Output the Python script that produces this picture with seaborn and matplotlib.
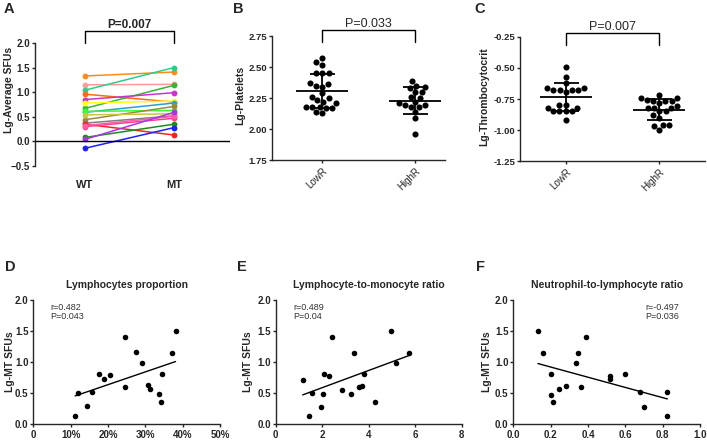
import matplotlib
matplotlib.use('Agg')
import matplotlib.pyplot as plt
import seaborn as sns
import pandas as pd
import numpy as np

# ---- data ----
# A: paired WT / MT values, one line per donor
wt_vals = [1.33, 1.15, 1.04, 0.96, 0.67, 0.85, 0.78, 0.59, 0.61, 0.44, 0.54, 0.37, 0.35, 0.30, 0.32, 0.08, 0.04, -0.14]
mt_vals = [1.41, 1.16, 1.50, 0.80, 1.14, 0.99, 0.82, 0.78, 0.63, 0.71, 0.56, 0.52, 0.13, 0.47, 0.51, 0.35, 0.59, 0.28]
donor_colors = ['#ff8c1a', '#ff9c94', '#2ecc8a', '#ff6a13', '#33b833', '#cc33cc', '#ffff1a', '#2a9fd0', '#33ff33',
                '#9c8a3a', '#c8c840', '#7f7f7f', '#ff2020', '#ff3c8c', '#ff5ca8', '#1f8c1f', '#aa33ee', '#2020ff']

# B: Lg-Platelets
plt_low = [2.57, 2.54, 2.52, 2.45, 2.45, 2.45, 2.37, 2.35, 2.34, 2.36, 2.29, 2.26, 2.25, 2.23, 2.22, 2.21,
           2.18, 2.18, 2.17, 2.18, 2.17, 2.14, 2.13]
plt_high = [2.39, 2.35, 2.34, 2.33, 2.30, 2.30, 2.26, 2.25, 2.22, 2.21, 2.19, 2.19, 2.18, 2.18, 2.14, 2.09, 1.96]

# C: Lg-Thrombocytocrit
pct_low = [-0.49, -0.57, -0.62, -0.66, -0.66, -0.68, -0.68, -0.68, -0.68, -0.69, -0.80, -0.80, -0.82, -0.82,
           -0.85, -0.85, -0.85, -0.85, -0.92]
pct_high = [-0.72, -0.74, -0.74, -0.76, -0.77, -0.77, -0.77, -0.78, -0.81, -0.82, -0.82, -0.82, -0.85, -0.85,
            -0.88, -0.90, -0.96, -0.96, -0.97, -1.00]

# D/E/F correlations with Lg-MT SFUs
lym_prop = [11.2, 11.9, 14.5, 15.7, 17.7, 19.0, 20.6, 24.6, 24.6, 27.5, 29.0, 30.7, 31.3, 33.7, 34.3, 34.5, 37.2, 38.1]
lym_sfu = [0.13, 0.50, 0.29, 0.52, 0.81, 0.72, 0.79, 1.41, 0.60, 1.16, 0.99, 0.63, 0.56, 0.48, 0.36, 0.81, 1.14, 1.50]

lmr = [1.16, 1.45, 1.55, 1.96, 2.05, 2.09, 2.29, 2.44, 2.85, 3.23, 3.37, 3.57, 3.70, 3.80, 4.26, 4.95, 5.18, 5.72]
lmr_sfu = [0.71, 0.13, 0.50, 0.28, 0.49, 0.80, 0.78, 1.40, 0.55, 0.48, 1.15, 0.59, 0.62, 0.81, 0.35, 1.50, 0.99, 1.14]

nlr = [0.132, 0.161, 0.20, 0.20, 0.21, 0.243, 0.282, 0.336, 0.348, 0.364, 0.389, 0.518, 0.518, 0.598, 0.679, 0.70, 0.825, 0.825]
nlr_sfu = [1.50, 1.14, 0.80, 0.47, 0.35, 0.57, 0.62, 0.99, 1.15, 0.59, 1.40, 0.78, 0.72, 0.80, 0.51, 0.28, 0.51, 0.13]

# ---- style ----
sns.set_style('ticks')
plt.rcParams['font.family'] = ['Liberation Sans', 'DejaVu Sans']
plt.rcParams['axes.linewidth'] = 1.0
plt.rcParams['xtick.major.width'] = 1.0
plt.rcParams['ytick.major.width'] = 1.0
plt.rcParams['xtick.major.size'] = 2.5
plt.rcParams['ytick.major.size'] = 2.5
plt.rcParams['xtick.major.pad'] = 1.5
plt.rcParams['ytick.major.pad'] = 1.0

W, H = 707, 448
fig = plt.figure(figsize=(W / 100, H / 100), dpi=100)


def box(left, right, top, bottom):
    return [left / W, 1 - bottom / H, (right - left) / W, (bottom - top) / H]


def bold_ticks(ax, size=7):
    for t in ax.get_yticklabels() + ax.get_xticklabels():
        t.set_fontweight('bold')
        t.set_fontsize(size)


def bracket(ax, y_leg, y_top, text, weight, size):
    ax.plot([0, 0, 1, 1], [y_leg, y_top, y_top, y_leg], color='black', lw=1.0, clip_on=False)
    ax.text(0.5, y_top, text, ha='center', va='bottom', fontsize=size, fontweight=weight)


# ---- A: paired lines ----
axA = fig.add_axes(box(35, 230, 43, 166))
dfA = pd.DataFrame({
    'donor': list(range(len(wt_vals))) * 2,
    'pos': [0] * len(wt_vals) + [1] * len(mt_vals),
    'value': wt_vals + mt_vals,
})
sns.lineplot(data=dfA, x='pos', y='value', hue='donor', palette=donor_colors, estimator=None,
             marker='o', markersize=4.2, markeredgewidth=0, linewidth=1.1, legend=False, ax=axA)
axA.axhline(0, color='black', lw=1.0)
axA.set_xlim(-0.56, 1.63)
axA.set_ylim(-0.5, 2.0)
axA.set_yticks([-0.5, 0.0, 0.5, 1.0, 1.5, 2.0])
axA.set_xticks([0, 1])
axA.set_xticklabels(['WT', 'MT'])
axA.tick_params(axis='x', length=0, pad=10)
sns.despine(ax=axA, bottom=True)
axA.set_xlabel('')
axA.set_ylabel('Lg-Average SFUs', fontsize=7.5, fontweight='bold')
axA.yaxis.set_label_coords(-0.11, 0.62)
bold_ticks(axA)
for t in axA.get_xticklabels():
    t.set_fontsize(8)
bracket(axA, 2.0, 2.24, 'P=0.007', 'bold', 8.5)


# ---- B / C: scatter with mean ± SD ----
def dot_panel(ax, low, high, ylim, yticks, ylabel, ptext, y_leg, y_top, label_x):
    df = pd.DataFrame({'group': ['LowR'] * len(low) + ['HighR'] * len(high), 'value': low + high})
    sns.swarmplot(data=df, x='group', y='value', color='black', size=4.4, ax=ax)
    for i, vals in enumerate([low, high]):
        m = np.mean(vals)
        sd = np.std(vals, ddof=1)
        ax.hlines(m, i - 0.28, i + 0.28, color='black', lw=1.3, zorder=3)
        ax.errorbar(i, m, yerr=sd, color='black', lw=1.3, capsize=9, capthick=1.3, zorder=3)
    ax.set_ylim(*ylim)
    ax.set_yticks(yticks)
    ax.yaxis.set_major_formatter(matplotlib.ticker.FormatStrFormatter('%.2f'))
    ax.set_xlabel('')
    ax.set_ylabel(ylabel, fontsize=7.5, fontweight='bold')
    ax.yaxis.set_label_coords(label_x, 0.52)
    sns.despine(ax=ax)
    bold_ticks(ax, 6.8)
    for t in ax.get_xticklabels():
        t.set_fontweight('normal')
        t.set_fontsize(7)
        t.set_rotation(45)
        t.set_ha('right')
        t.set_rotation_mode('anchor')
    bracket(ax, y_leg, y_top, ptext, 'normal', 9)


axB = fig.add_axes(box(272, 445, 36, 160))
dot_panel(axB, plt_low, plt_high, (1.75, 2.75), [1.75, 2.00, 2.25, 2.50, 2.75], 'Lg-Platelets',
          'P=0.033', 2.70, 2.80, -0.155)
axB.set_xlim(-0.54, 1.32)

axC = fig.add_axes(box(520, 705, 36.7, 161.3))
dot_panel(axC, pct_low, pct_high, (-1.25, -0.25), [-1.25, -1.00, -0.75, -0.50, -0.25], 'Lg-Thrombocytocrit',
          'P=0.007', -0.32, -0.22, -0.165)
axC.set_xlim(-0.49, 1.49)


# ---- D / E / F: correlations ----
def corr_panel(ax, x, y, xlim, xticks, title, note, note_x, note_ha, label_x):
    sns.regplot(x=x, y=y, ci=None, color='black', ax=ax,
                scatter_kws={'s': 16, 'linewidths': 0, 'alpha': 1},
                line_kws={'lw': 1.0})
    ax.set_xlim(*xlim)
    ax.set_ylim(0, 2.0)
    ax.set_yticks([0.0, 0.5, 1.0, 1.5, 2.0])
    ax.set_xticks(xticks)
    ax.set_ylabel('Lg-MT SFUs', fontsize=7.5, fontweight='bold')
    ax.yaxis.set_label_coords(label_x, 0.5)
    ax.set_title(title, fontsize=7.5, fontweight='bold', pad=9)
    ax.text(note_x, 1.95, note, ha=note_ha, va='top', fontsize=6.5, color='#333333', linespacing=1.0)
    sns.despine(ax=ax)
    bold_ticks(ax)


axD = fig.add_axes(box(33.3, 220, 300, 424))
corr_panel(axD, lym_prop, lym_sfu, (0, 50), [0, 10, 20, 30, 40, 50], 'Lymphocytes proportion',
           'r=0.482\nP=0.043', 4.6, 'left', -0.098)
axD.set_xticklabels(['0', '10%', '20%', '30%', '40%', '50%'])
bold_ticks(axD)

axE = fig.add_axes(box(275.7, 461.7, 300, 424))
corr_panel(axE, lmr, lmr_sfu, (0, 8), [0, 2, 4, 6, 8], 'Lymphocyte-to-monocyte ratio',
           'r=0.489\nP=0.04', 0.75, 'left', -0.12)

axF = fig.add_axes(box(513.3, 700, 300, 424))
corr_panel(axF, nlr, nlr_sfu, (0, 1.0), [0.0, 0.2, 0.4, 0.6, 0.8, 1.0], 'Neutrophil-to-lymphocyte ratio',
           'r=-0.497\nP=0.036', 0.89, 'right', -0.116)
axF.xaxis.set_major_formatter(matplotlib.ticker.FormatStrFormatter('%.1f'))
bold_ticks(axF)

# ---- panel letters ----
for letter, x, y in [('A', 4, 2), ('B', 233, 2), ('C', 474, 2), ('D', 5, 260), ('E', 237, 260), ('F', 476, 260)]:
    fig.text(x / W, 1 - y / H, letter, fontsize=10.5, fontweight='bold', va='top', ha='left')

fig.savefig('out.png', dpi=100)
